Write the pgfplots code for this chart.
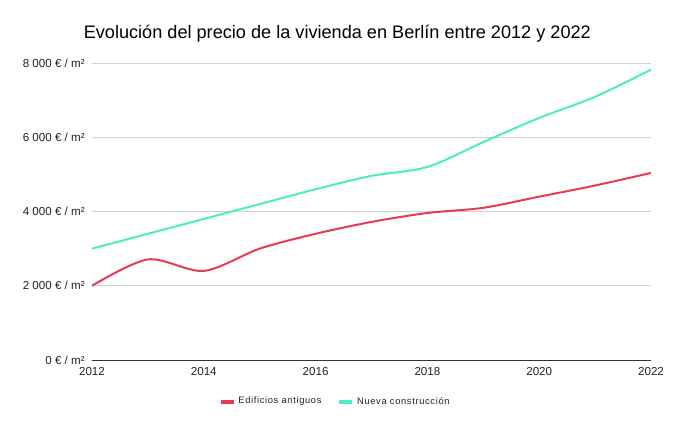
\documentclass[border=0pt]{standalone}
\usepackage{pgfplots}
\pgfplotsset{compat=1.18}
\usepackage{fontspec}
\setmainfont{Liberation Sans}
\definecolor{rojo}{HTML}{E83A55}
\definecolor{verde}{HTML}{4AEDC4}
\definecolor{txt}{HTML}{222222}
\begin{document}
\begin{tikzpicture}
\useasboundingbox (-69pt,-51.75pt) rectangle (435.75pt,270pt);
\node[anchor=base, font=\fontsize{13.6}{16}\selectfont, text=black] at (184pt,240.75pt) {Evolución del precio de la vivienda en Berlín entre 2012 y 2022};
\begin{axis}[
  at={(0,0)}, anchor=south west, scale only axis,
  width=419.25pt, height=222.75pt,
  xmin=2012, xmax=2022, ymin=0, ymax=8000,
  xtick={2012,2014,2016,2018,2020,2022},
  xticklabels={2012,2014,2016,2018,2020,2022},
  ytick={2000,4000,6000,8000},
  yticklabels={2 000 € / m², 4 000 € / m², 6 000 € / m², 8 000 € / m²},
  extra y ticks={0},
  extra y tick labels={0 € / m²},
  extra y tick style={grid style={draw=black!80, line width=0.75pt}},
  axis line style={draw=none},
  major tick length=0pt,
  tick style={draw=none},
  ymajorgrids,
  grid style={draw=black!18, line width=0.6pt},
  yticklabel style={font=\fontsize{8.7}{10}\selectfont, text=txt, inner sep=0pt, xshift=-5.25pt},
  xticklabel style={font=\fontsize{8.7}{10}\selectfont, text=txt, inner sep=0pt, yshift=-5pt},
  legend style={draw=none, at={(0.4356,-0.14)}, anchor=center, legend columns=2,
    font=\fontsize{7}{8}\selectfont\addfontfeature{LetterSpace=7}, text=txt,
    /tikz/every even column/.append style={column sep=10pt},
    inner sep=0pt},
  legend image code/.code={\draw[#1, line width=3pt] (0pt,0pt) -- (9.75pt,0pt);},
]
\addplot[rojo, line width=1.5pt, smooth, tension=0.5] coordinates {
(2012,2000) (2013,2710) (2014,2400) (2015,3000) (2016,3400) (2017,3720)
(2018,3960) (2019,4100) (2020,4400) (2021,4700) (2022,5040)};
\addlegendentry{Edificios antiguos}
\addplot[verde, line width=1.5pt, smooth, tension=0.5] coordinates {
(2012,3000) (2013,3400) (2014,3800) (2015,4200) (2016,4600) (2017,4960)
(2018,5200) (2019,5870) (2020,6520) (2021,7090) (2022,7820)};
\addlegendentry{Nueva construcción}
\end{axis}
\end{tikzpicture}
\end{document}
